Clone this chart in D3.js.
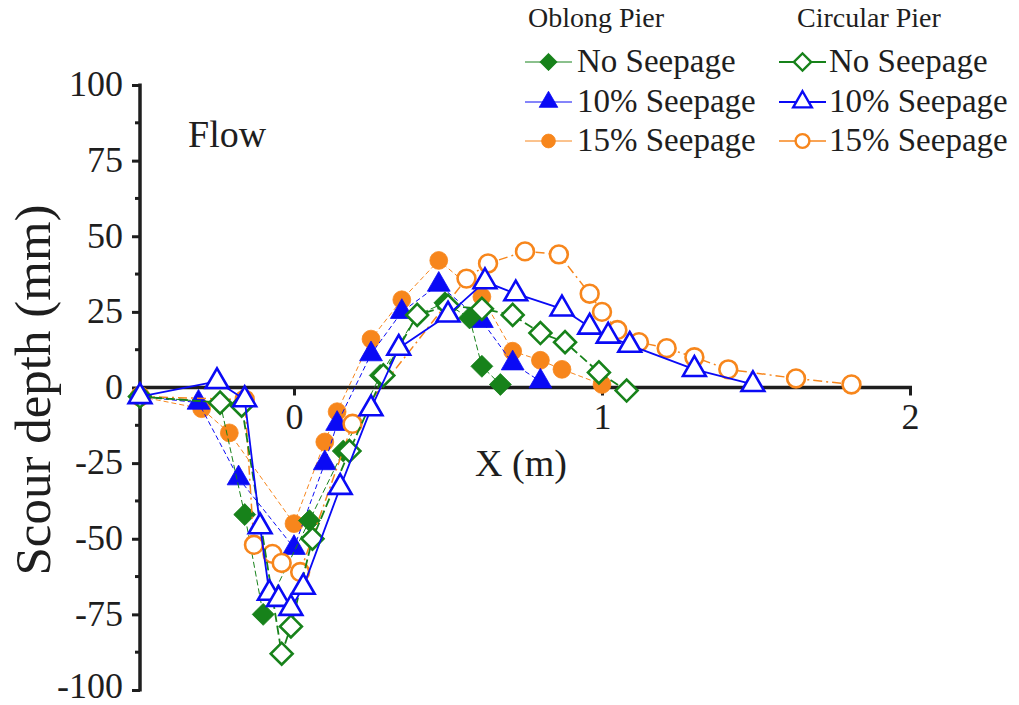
<!DOCTYPE html>
<html>
<head>
<meta charset="utf-8">
<script src="https://cdn.jsdelivr.net/npm/d3@7"></script>
<style>
  html, body { margin: 0; padding: 0; background: #fff; }
  svg { display: block; font-family: "Liberation Serif", "Times New Roman", serif; }
</style>
</head>
<body>
<svg id="chart" width="1019" height="705"></svg>
<script>
// Scour depth profiles along the flume centre line (X in m, depth in mm)
const oblongNoneX = [-0.50, -0.24, -0.16, -0.10, 0.05, 0.16, 0.28, 0.40, 0.49, 0.57, 0.61, 0.67];
const oblongNoneY = [-3, -5, -42, -75, -44, -21, 4, 24, 28, 23, 7, 1];

const oblong10X = [-0.50, -0.31, -0.18, 0.00, 0.10, 0.14, 0.25, 0.35, 0.47, 0.61, 0.71, 0.80];
const oblong10Y = [-3, -5, -30, -53, -25, -12, 11, 25, 34, 22, 8, 2];

const oblong15X = [-0.50, -0.30, -0.21, 0.00, 0.10, 0.14, 0.25, 0.35, 0.47, 0.61, 0.71, 0.80, 0.87, 1.00];
const oblong15Y = [-3, -7, -15, -45, -18, -8, 16, 29, 42, 30, 12, 9, 6, 1];

const circNoneX = [-0.50, -0.24, -0.17, -0.04, -0.01, 0.06, 0.18, 0.29, 0.40, 0.50, 0.61, 0.71, 0.80, 0.88, 0.99, 1.08];
const circNoneY = [-3, -5, -6, -88, -79, -50, -21, 4, 24, 27, 26, 24, 18, 15, 5, -1];

const circ10X = [-0.50, -0.25, -0.16, -0.11, -0.08, -0.05, -0.01, 0.03, 0.15, 0.25, 0.34, 0.50, 0.62, 0.72, 0.87, 0.96, 1.02, 1.09, 1.30, 1.49];
const circ10Y = [-3, 2, -4, -46, -68, -70, -73, -66, -33, -7, 13, 24, 35, 31, 26, 20, 17, 14, 6, 1];

const circ15X = [-0.50, -0.16, -0.13, -0.07, -0.04, 0.02, 0.19, 0.56, 0.63, 0.75, 0.86, 0.96, 1.00, 1.05, 1.12, 1.21, 1.30, 1.41, 1.63, 1.81];
const circ15Y = [-3, -4, -52, -55, -58, -61, -12, 36, 41, 45, 44, 31, 25, 19, 15, 13, 10, 6, 3, 1];

const yTickValues = [-100, -75, -50, -25, 0, 25, 50, 75, 100];
const xTickValues = [0, 1, 2];
const groupTitles = ["Oblong Pier", "Circular Pier"];
const seriesNames = ["No Seepage", "10% Seepage", "15% Seepage"];

const GREEN = "#17821a", BLUE = "#0a0af5", ORANGE = "#f7861c";

// drawing order: oblong (filled) first, circular (open) on top
const series = [
  { group: 0, row: 2, xs: oblong15X, ys: oblong15Y, color: ORANGE, shape: "circle", open: false, width: 1, dash: "5,3" },
  { group: 0, row: 1, xs: oblong10X, ys: oblong10Y, color: BLUE, shape: "triangle", open: false, width: 1, dash: "5,3" },
  { group: 0, row: 0, xs: oblongNoneX, ys: oblongNoneY, color: GREEN, shape: "diamond", open: false, width: 1, dash: "6,3" },
  { group: 1, row: 2, xs: circ15X, ys: circ15Y, color: ORANGE, shape: "circle", open: true, width: 1.5, dash: "9,4,2,4" },
  { group: 1, row: 0, xs: circNoneX, ys: circNoneY, color: GREEN, shape: "diamond", open: true, width: 1.8, dash: "9,4" },
  { group: 1, row: 1, xs: circ10X, ys: circ10Y, color: BLUE, shape: "triangle", open: true, width: 1.8, dash: null }
];

const svg = d3.select("#chart");
const x = d3.scaleLinear().domain([-0.5, 2]).range([140, 910]);
const y = d3.scaleLinear().domain([-100, 100]).range([690, 85]);
const TEXT = "#1e1e1e";

function symbolPath(shape, big) {
  if (shape === "diamond") return d3.symbol(d3.symbolSquare, big ? 240 : 150)();
  if (shape === "triangle") return d3.symbol(d3.symbolTriangle, big ? 225 : 150)();
  return d3.symbol(d3.symbolCircle, big ? 250 : 150)();
}
function symbolTransform(shape, cx, cy) {
  return shape === "diamond" ? `translate(${cx},${cy}) rotate(45)` : `translate(${cx},${cy})`;
}

// y axis with minor ticks
const yAxisG = svg.append("g").attr("transform", `translate(${x(-0.5)},0)`);
yAxisG.call(d3.axisLeft(y).tickValues(yTickValues).tickSize(8).tickPadding(9).tickFormat(d => String(d)));
yAxisG.select(".domain").remove();
yAxisG.selectAll(".tick line").attr("stroke", TEXT).attr("stroke-width", 3);
yAxisG.selectAll(".tick text").attr("fill", TEXT)
  .attr("dy", d => d === -100 ? "0.2em" : "0.3em")
  .style("font-size", "36px").style("font-family", "Liberation Serif");
const yMinor = d3.range(-87.5, 100, 25);
yAxisG.selectAll(".minor").data(yMinor).join("line")
  .attr("x1", 0).attr("x2", -5).attr("y1", d => y(d)).attr("y2", d => y(d))
  .attr("stroke", TEXT).attr("stroke-width", 3);
yAxisG.append("line").attr("x1", 0).attr("x2", 0).attr("y1", y(100) - 1.5).attr("y2", y(-100) + 1.5)
  .attr("stroke", TEXT).attr("stroke-width", 3.5);

// x axis through zero
const xAxisG = svg.append("g").attr("transform", `translate(0,${y(0)})`);
xAxisG.call(d3.axisBottom(x).tickValues(xTickValues).tickSize(8).tickPadding(8).tickFormat(d => String(d)));
xAxisG.select(".domain").remove();
xAxisG.selectAll(".tick line").attr("stroke", TEXT).attr("stroke-width", 3);
xAxisG.selectAll(".tick text").attr("fill", TEXT).style("font-size", "36px").style("font-family", "Liberation Serif");
xAxisG.append("line").attr("x1", x(-0.5)).attr("x2", x(2) + 2).attr("y1", 0).attr("y2", 0)
  .attr("stroke", TEXT).attr("stroke-width", 3.5);

// axis titles and annotation
svg.append("text").attr("transform", `translate(50,390) rotate(-90)`)
  .attr("text-anchor", "middle").attr("fill", TEXT).style("font-size", "51px").text("Scour depth (mm)");
svg.append("text").attr("x", 521).attr("y", 476).attr("text-anchor", "middle")
  .attr("fill", TEXT).style("font-size", "38px").text("X (m)");
svg.append("text").attr("x", 188).attr("y", 147).attr("fill", TEXT).style("font-size", "38px").text("Flow");

// series lines and markers
const line = d3.line().x(d => x(d[0])).y(d => y(d[1]));
series.forEach(s => {
  const pts = s.xs.map((v, i) => [v, s.ys[i]]);
  svg.append("path").datum(pts).attr("d", line).attr("fill", "none")
    .attr("stroke", s.color).attr("stroke-width", s.width)
    .attr("stroke-dasharray", s.dash).attr("stroke-linejoin", "round");
  svg.append("g").selectAll("path").data(pts).join("path")
    .attr("d", symbolPath(s.shape, true))
    .attr("transform", d => symbolTransform(s.shape, x(d[0]), y(d[1])))
    .attr("fill", s.open ? "#fff" : s.color)
    .attr("stroke", s.color).attr("stroke-width", s.open ? 2.6 : 0.8);
});

// legend
const legend = svg.append("g");
const colX = [525, 779];
const textX = [577, 829];
const titleX = [528, 797];
const rowY = [62, 102, 141];
groupTitles.forEach((t, g) => {
  legend.append("text").attr("x", titleX[g]).attr("y", 27).attr("fill", TEXT)
    .style("font-size", "28px").text(t);
});
series.forEach(s => {
  const lx = colX[s.group], ly = rowY[s.row];
  legend.append("line").attr("x1", lx).attr("x2", lx + 47).attr("y1", ly).attr("y2", ly)
    .attr("stroke", s.color).attr("stroke-width", s.width);
  legend.append("path").attr("d", symbolPath(s.shape, false))
    .attr("transform", symbolTransform(s.shape, lx + 23.5, ly))
    .attr("fill", s.open ? "#fff" : s.color)
    .attr("stroke", s.color).attr("stroke-width", s.open ? 2.4 : 0.8);
  legend.append("text").attr("x", textX[s.group]).attr("y", ly + 10).attr("fill", TEXT)
    .style("font-size", "33px").text(seriesNames[s.row]);
});
</script>
</body>
</html>
